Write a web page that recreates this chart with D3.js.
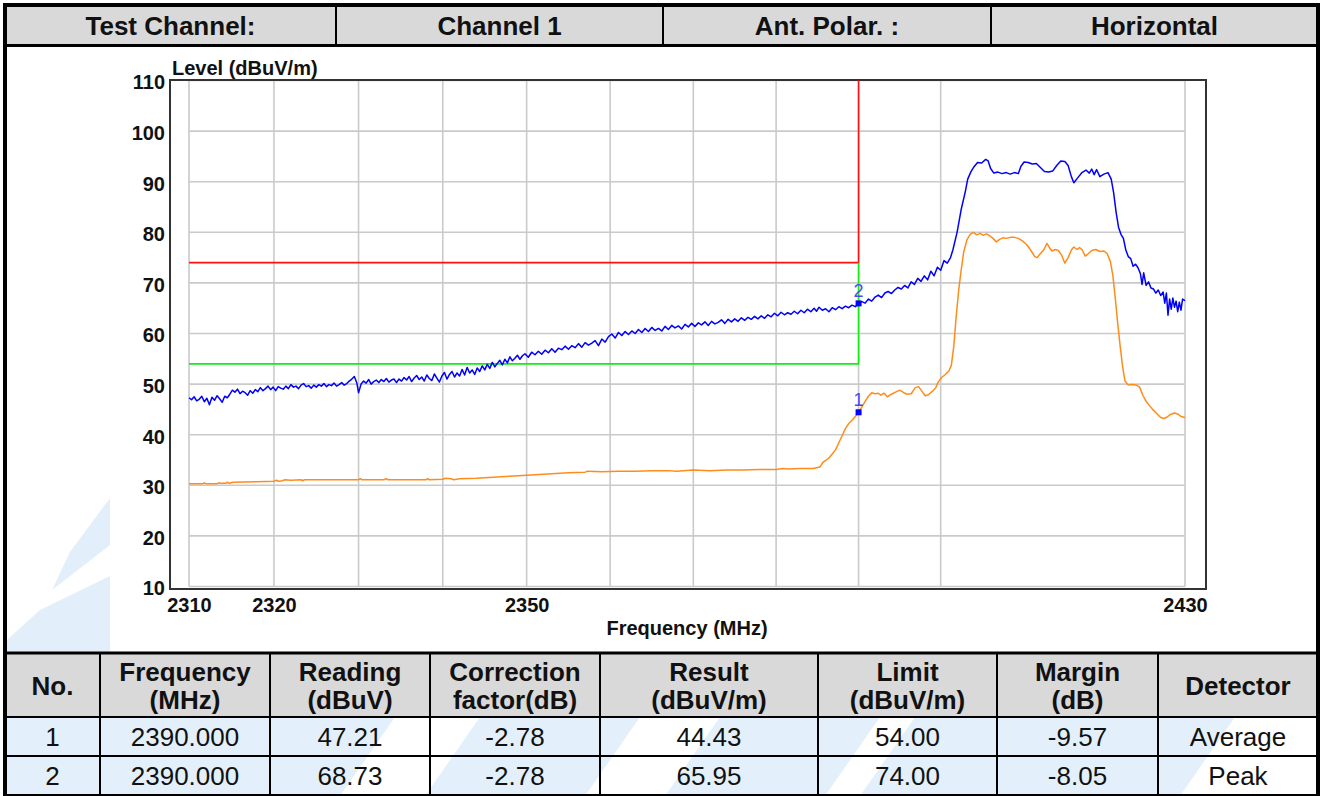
<!DOCTYPE html>
<html>
<head>
<meta charset="utf-8">
<script src="https://cdn.jsdelivr.net/npm/d3@7"></script>
<style>
  html, body { margin: 0; padding: 0; background: #fff; }
  svg { display: block; font-family: Arial, "Liberation Sans", sans-serif; }
</style>
</head>
<body>
<svg id="page" width="1325" height="796"></svg>
<script>
// ---------- header of the test sheet ----------
const headerCells = ["Test Channel:", "Channel 1", "Ant. Polar. :", "Horizontal"];

// ---------- axes ----------
const levelTicks = [10, 20, 30, 40, 50, 60, 70, 80, 90, 100, 110];
const freqGrid = [2310, 2320, 2330, 2340, 2350, 2360, 2370, 2380, 2390, 2400, 2430];
const freqTickLabels = [2310, 2320, 2350, 2430];

// ---------- limit lines (MHz, dBuV/m) ----------
const peakLimit = [[2310, 74], [2390, 74], [2390, 110]];
const avgLimit = [[2310, 54], [2390, 54], [2390, 74]];

// ---------- peak detector trace (MHz, dBuV/m) ----------
const peakTrace = [
  [2310.0,47.3],[2310.3,46.9],[2310.6,47.5],[2310.9,46.7],[2311.2,47.0],[2311.5,47.6],[2311.8,46.5],[2312.1,47.2],[2312.4,45.9],[2312.7,47.4],
  [2313.0,46.8],[2313.3,47.7],[2313.6,47.1],[2313.9,46.4],[2314.2,47.6],[2314.5,47.3],[2314.8,48.0],[2315.1,48.8],[2315.4,48.4],[2315.7,49.0],
  [2316.0,48.1],[2316.3,48.6],[2316.6,48.3],[2316.9,47.8],[2317.2,48.7],[2317.5,48.2],[2317.8,48.9],[2318.1,48.5],[2318.4,49.3],[2318.7,48.7],
  [2319.0,49.1],[2319.3,49.6],[2319.6,48.9],[2319.9,49.4],[2320.2,48.7],[2320.5,49.5],[2320.8,49.2],[2321.1,49.0],[2321.4,49.6],[2321.7,49.1],
  [2322.0,49.9],[2322.3,49.4],[2322.6,49.6],[2322.9,49.1],[2323.2,49.8],[2323.5,50.1],[2323.8,49.5],[2324.1,49.7],[2324.4,49.2],[2324.7,49.8],
  [2325.0,49.4],[2325.3,49.9],[2325.6,49.6],[2325.9,50.1],[2326.2,49.5],[2326.5,49.9],[2326.8,49.7],[2327.1,50.2],[2327.4,49.6],[2327.7,49.9],
  [2328.0,50.3],[2328.3,49.8],[2328.6,50.1],[2328.9,50.6],[2329.2,51.0],[2329.5,51.5],[2329.8,50.2],[2330.0,48.3],[2330.3,50.0],[2330.6,50.6],
  [2330.9,50.2],[2331.2,50.9],[2331.5,50.0],[2331.8,50.5],[2332.1,50.8],[2332.4,50.3],[2332.7,50.9],[2333.0,50.5],[2333.3,51.1],[2333.6,50.4],
  [2333.9,50.8],[2334.2,51.0],[2334.5,50.3],[2334.8,51.0],[2335.1,50.6],[2335.4,51.3],[2335.7,50.8],[2336.0,51.5],[2336.3,50.5],[2336.6,51.2],
  [2336.9,51.7],[2337.2,50.9],[2337.5,51.4],[2337.8,50.6],[2338.1,51.8],[2338.4,51.1],[2338.7,50.7],[2339.0,52.0],[2339.3,51.2],[2339.6,50.4],
  [2339.9,51.6],[2340.2,52.3],[2340.5,51.0],[2340.8,51.9],[2341.1,52.5],[2341.4,51.4],[2341.7,52.2],[2342.0,51.6],[2342.3,52.9],[2342.6,51.8],
  [2342.9,53.3],[2343.2,52.2],[2343.5,52.8],[2343.8,51.9],[2344.1,53.2],[2344.4,52.5],[2344.7,53.6],[2345.0,52.8],[2345.3,53.9],[2345.6,53.1],
  [2345.9,54.3],[2346.2,53.4],[2346.5,54.1],[2346.8,54.7],[2347.1,53.8],[2347.4,54.9],[2347.7,54.2],[2348.0,55.4],[2348.3,54.6],[2348.6,55.1],
  [2348.9,55.7],[2349.2,54.9],[2349.5,55.6],[2349.8,56.0],[2350.2,55.3],[2350.6,56.3],[2351.0,55.8],[2351.4,56.5],[2351.8,55.9],[2352.2,56.7],
  [2352.6,56.2],[2353.0,57.0],[2353.4,56.3],[2353.8,57.1],[2354.2,56.8],[2354.6,57.5],[2355.0,56.9],[2355.4,57.6],[2355.8,57.2],[2356.2,58.0],
  [2356.6,57.3],[2357.0,58.2],[2357.4,57.7],[2357.8,58.1],[2358.2,58.6],[2358.6,57.6],[2359.0,58.9],[2359.4,58.3],[2359.8,59.4],[2360.2,59.9],
  [2360.6,59.1],[2361.0,60.2],[2361.4,59.6],[2361.8,60.4],[2362.2,59.8],[2362.6,60.5],[2363.0,60.0],[2363.4,60.8],[2363.8,60.2],[2364.2,61.0],
  [2364.6,60.4],[2365.0,61.2],[2365.4,60.6],[2365.8,61.0],[2366.2,60.5],[2366.6,61.4],[2367.0,60.8],[2367.4,61.6],[2367.8,61.1],[2368.2,61.5],
  [2368.6,60.9],[2369.0,61.8],[2369.4,61.3],[2369.8,62.0],[2370.2,61.4],[2370.6,62.1],[2371.0,61.7],[2371.4,62.3],[2371.8,61.6],[2372.2,62.4],
  [2372.6,61.9],[2373.0,62.2],[2373.4,62.7],[2373.8,62.0],[2374.2,62.8],[2374.6,62.3],[2375.0,62.9],[2375.4,62.4],[2375.8,63.1],[2376.2,62.6],
  [2376.6,63.2],[2377.0,62.8],[2377.4,63.4],[2377.8,62.9],[2378.2,63.5],[2378.6,63.0],[2379.0,63.7],[2379.4,63.3],[2379.8,64.0],[2380.2,63.5],
  [2380.6,64.2],[2381.0,63.7],[2381.4,64.1],[2381.8,63.8],[2382.2,64.4],[2382.6,63.9],[2383.0,64.6],[2383.4,64.1],[2383.8,64.8],[2384.2,64.3],
  [2384.6,65.0],[2384.9,64.4],[2385.2,65.2],[2385.6,64.6],[2386.0,64.9],[2386.4,64.3],[2386.8,65.1],[2387.2,64.7],[2387.6,65.3],[2388.0,64.9],
  [2388.4,65.4],[2388.8,65.1],[2389.2,65.6],[2389.6,65.3],[2390.0,65.95],
  [2390.4,66.3],[2390.8,66.0],[2391.2,66.8],[2391.6,66.4],[2392.0,67.2],[2392.4,67.6],[2392.8,67.1],[2393.2,68.0],[2393.6,68.3],[2394.0,67.9],
  [2394.4,68.6],[2394.8,69.1],[2395.2,68.8],[2395.6,69.5],[2396.0,69.0],[2396.4,70.2],[2396.8,69.7],[2397.2,70.9],[2397.6,70.3],[2398.0,71.4],
  [2398.4,70.6],[2398.8,72.3],[2399.2,71.4],[2399.6,73.1],[2400.0,72.5],[2400.4,74.4],[2400.8,73.9],[2401.2,75.0],[2401.5,76.6],[2402.0,80.0],
  [2402.5,84.5],[2403.0,88.0],[2403.3,90.5],[2403.7,92.0],[2404.0,92.8],[2404.5,93.8],[2405.0,93.7],[2405.5,94.4],[2405.8,94.1],[2406.1,92.6],
  [2406.5,91.7],[2407.0,91.9],[2407.5,91.6],[2408.0,91.8],[2408.5,91.5],[2409.0,91.8],[2409.5,91.6],[2409.8,93.0],[2410.2,93.9],[2410.7,93.8],
  [2411.2,93.5],[2411.7,93.6],[2412.2,92.8],[2412.7,92.0],[2413.2,91.9],[2413.7,92.1],[2414.2,93.2],[2414.7,94.1],[2415.2,94.0],[2415.6,93.2],
  [2416.0,91.0],[2416.3,89.8],[2416.8,90.8],[2417.3,91.8],[2417.8,92.3],[2418.2,91.7],[2418.5,92.5],[2418.8,91.4],[2419.1,92.4],[2419.5,91.0],
  [2420.0,91.5],[2420.5,91.8],[2420.9,90.5],[2421.2,87.8],[2421.5,84.0],[2421.8,81.0],[2422.1,79.6],[2422.4,78.8],[2422.7,76.5],[2423.0,75.2],
  [2423.3,74.8],[2423.6,73.3],[2423.9,73.7],[2424.2,73.0],[2424.5,71.8],[2424.7,69.7],[2424.9,72.0],[2425.2,69.5],[2425.5,70.2],[2425.8,69.0],
  [2426.1,68.8],[2426.4,68.0],[2426.7,68.6],[2427.0,67.5],[2427.3,68.2],[2427.5,66.0],[2427.7,68.0],[2427.9,63.6],[2428.1,66.8],[2428.3,64.8],
  [2428.5,67.0],[2428.7,65.2],[2428.9,66.4],[2429.1,64.3],[2429.3,66.2],[2429.5,64.6],[2429.7,66.8],[2430.0,66.5]
];

// ---------- average detector trace (MHz, dBuV/m) ----------
const avgTrace = [
  [2310.0,30.3],[2311.6,30.3],[2311.8,30.5],[2312.0,30.3],[2313.3,30.3],[2313.5,30.5],[2313.7,30.4],[2314.3,30.4],[2314.5,30.6],[2314.7,30.4],
  [2315.2,30.6],[2318.0,30.7],[2320.0,30.8],[2320.3,31.0],[2320.5,30.8],[2321.0,30.9],[2321.3,31.1],[2322.0,31.0],[2323.2,31.1],[2323.4,30.9],
  [2323.6,31.1],[2326.0,31.1],[2330.0,31.1],[2330.2,31.3],[2330.4,31.1],[2333.0,31.1],[2333.3,31.3],[2333.5,31.1],[2338.0,31.1],[2338.2,31.3],
  [2338.4,31.1],[2340.0,31.2],[2340.3,31.4],[2341.0,31.3],[2341.3,31.1],[2342.0,31.3],[2344.0,31.4],[2345.0,31.5],[2347.0,31.7],[2349.0,31.9],
  [2351.0,32.1],[2353.0,32.3],[2355.0,32.5],[2357.0,32.6],[2357.3,32.8],[2359.0,32.7],[2361.0,32.8],[2363.0,32.8],[2365.0,32.9],[2367.0,32.9],
  [2368.0,32.8],[2370.0,33.0],[2372.0,32.9],[2374.0,33.0],[2376.0,33.0],[2378.0,33.1],[2380.0,33.1],[2380.8,33.3],[2381.5,33.2],[2383.0,33.3],
  [2384.5,33.3],[2385.3,33.6],[2385.7,34.6],[2386.0,34.9],[2386.4,35.4],[2386.8,36.2],[2387.2,37.0],[2387.6,38.4],[2388.0,39.8],[2388.4,41.2],
  [2388.8,42.2],[2389.3,43.0],[2389.7,43.8],[2390.0,44.43],[2390.4,45.5],[2390.8,46.6],[2391.2,47.6],[2391.6,48.3],[2392.0,48.1],[2392.4,48.2],
  [2392.7,47.8],[2393.1,48.2],[2393.5,47.5],[2394.0,48.0],[2394.5,48.4],[2395.0,48.8],[2395.5,48.3],[2395.9,48.0],[2396.4,48.1],[2396.9,49.3],
  [2397.3,49.5],[2397.7,48.6],[2398.1,47.7],[2398.5,47.9],[2399.0,48.6],[2399.4,49.3],[2399.7,50.4],[2400.1,51.3],[2400.5,51.8],[2401.0,52.6],
  [2401.3,53.7],[2401.6,57.5],[2401.9,63.5],[2402.2,68.6],[2402.5,72.5],[2402.8,76.0],[2403.2,78.5],[2403.6,79.6],[2404.0,80.0],[2404.4,79.5],
  [2404.8,79.8],[2405.2,79.4],[2405.6,79.7],[2406.0,79.3],[2406.4,78.8],[2406.8,78.1],[2407.2,78.6],[2407.6,78.9],[2408.0,78.8],[2408.5,79.0],
  [2409.0,79.0],[2409.5,78.8],[2410.0,78.3],[2410.5,77.6],[2411.0,76.5],[2411.5,75.2],[2411.8,75.0],[2412.2,75.8],[2412.6,76.5],[2413.0,77.8],
  [2413.3,77.0],[2413.6,76.3],[2414.0,76.6],[2414.4,76.4],[2414.8,75.5],[2415.2,73.9],[2415.6,75.0],[2416.0,76.5],[2416.3,77.1],[2416.7,76.6],
  [2417.0,77.0],[2417.3,76.6],[2417.7,75.3],[2418.1,75.8],[2418.5,76.4],[2419.0,76.6],[2419.5,76.2],[2420.0,76.3],[2420.4,75.8],[2420.8,74.2],
  [2421.1,71.5],[2421.4,67.0],[2421.7,62.0],[2422.0,57.5],[2422.3,53.5],[2422.6,50.6],[2423.0,49.8],[2423.5,49.9],[2424.0,49.8],[2424.4,49.4],
  [2424.8,47.8],[2425.2,46.6],[2425.6,45.8],[2426.0,45.0],[2426.5,44.2],[2427.0,43.4],[2427.4,43.2],[2427.8,43.5],[2428.2,44.0],[2428.7,44.3],
  [2429.1,44.1],[2429.5,43.6],[2430.0,43.4]
];

// ---------- result table ----------
const tableHeads = [["No."], ["Frequency", "(MHz)"], ["Reading", "(dBuV)"], ["Correction", "factor(dB)"],
                    ["Result", "(dBuV/m)"], ["Limit", "(dBuV/m)"], ["Margin", "(dB)"], ["Detector"]];
const markerNo = ["1", "2"];
const markerFreq = [2390.000, 2390.000];
const readings = [47.21, 68.73];
const corrections = [-2.78, -2.78];
const results = [44.43, 65.95];
const limits = [54.00, 74.00];
const margins = [-9.57, -8.05];
const detectors = ["Average", "Peak"];

// ================= drawing =================
const svg = d3.select("#page");

// faint logo watermark behind the sheet
svg.append("rect").attr("x", 5).attr("y", 717).attr("width", 1313).attr("height", 79).attr("fill", "#e3f0fb");
const wmBlue = [
  [[110, 498], [110, 545], [52, 590], [70, 552]],
  [[110, 576], [110, 652], [7, 652], [7, 640], [40, 610]]
];
svg.append("g").attr("fill", "#e2effa").selectAll("polygon").data(wmBlue).join("polygon")
  .attr("points", d => d.map(p => p.join(",")).join(" "));
const wmWhite = [
  [[395, 717], [480, 717], [425, 796], [340, 796]],
  [[640, 717], [720, 717], [665, 796], [585, 796]],
  [[880, 717], [915, 717], [860, 796], [825, 796]],
  [[1235, 717], [1318, 717], [1318, 796], [1180, 796]]
];
svg.append("g").attr("fill", "#fff").selectAll("polygon").data(wmWhite).join("polygon")
  .attr("points", d => d.map(p => p.join(",")).join(" "));

// white plot picture
svg.append("rect").attr("x", 110).attr("y", 47).attr("width", 1206).attr("height", 605).attr("fill", "#fff");

// ----- top header row -----
const headX = [5, 336, 663, 991, 1318];
const head = svg.append("g");
head.append("rect").attr("x", 5).attr("y", 5).attr("width", 1313).attr("height", 40).attr("fill", "#d9d9d9");
head.selectAll("text").data(headerCells).join("text")
  .attr("x", (d, i) => (headX[i] + headX[i + 1]) / 2)
  .attr("y", 35)
  .attr("text-anchor", "middle")
  .attr("font-weight", "bold")
  .attr("font-size", 26)
  .attr("fill", "#111")
  .text(d => d);
head.selectAll("line.div").data(headX.slice(1, -1)).join("line")
  .attr("class", "div")
  .attr("x1", d => d).attr("x2", d => d).attr("y1", 5).attr("y2", 45)
  .attr("stroke", "#000").attr("stroke-width", 2);
head.append("line").attr("x1", 5).attr("x2", 1318).attr("y1", 45.5).attr("y2", 45.5)
  .attr("stroke", "#000").attr("stroke-width", 3);

// ----- chart -----
const x = d3.scaleLog().domain([2310, 2430]).range([189, 1185]);
const y = d3.scaleLinear().domain([10, 110]).range([586.5, 80.5]);

const chart = svg.append("g");

// grid
chart.append("g").selectAll("line").data(freqGrid).join("line")
  .attr("x1", d => x(d)).attr("x2", d => x(d))
  .attr("y1", y(110)).attr("y2", y(10))
  .attr("stroke", "#cacaca").attr("stroke-width", 1.6);
chart.append("g").selectAll("line").data(levelTicks).join("line")
  .attr("x1", x(2310)).attr("x2", x(2430))
  .attr("y1", d => y(d)).attr("y2", d => y(d))
  .attr("stroke", "#cacaca").attr("stroke-width", 1.6);

// frame
chart.append("rect").attr("x", 170).attr("y", 80).attr("width", 1036).attr("height", 509)
  .attr("fill", "none").attr("stroke", "#333").attr("stroke-width", 2);

// limit lines
const line = d3.line().x(d => x(d[0])).y(d => y(d[1]));
chart.append("path").datum(peakLimit).attr("d", line)
  .attr("fill", "none").attr("stroke", "#ff1010").attr("stroke-width", 1.6);
chart.append("path").datum(avgLimit).attr("d", line)
  .attr("fill", "none").attr("stroke", "#10ee10").attr("stroke-width", 1.6);

// traces
chart.append("path").datum(avgTrace).attr("d", line)
  .attr("fill", "none").attr("stroke", "#ff8c1a").attr("stroke-width", 1.5).attr("stroke-linejoin", "round");
chart.append("path").datum(peakTrace).attr("d", line)
  .attr("fill", "none").attr("stroke", "#0000ff").attr("stroke-width", 1.5).attr("stroke-linejoin", "round");

// markers
const mk = chart.append("g");
mk.selectAll("rect").data(results).join("rect")
  .attr("x", (d, i) => x(markerFreq[i]) - 3).attr("y", d => y(d) - 3)
  .attr("width", 6).attr("height", 6).attr("fill", "#0000ff");
mk.selectAll("text").data(results).join("text")
  .attr("x", (d, i) => x(markerFreq[i]))
  .attr("y", d => y(d) - 6)
  .attr("text-anchor", "middle").attr("font-size", 18).attr("fill", "#4a4af5")
  .text((d, i) => markerNo[i]);

// axes
const xAxis = d3.axisBottom(x).tickValues(freqTickLabels).tickFormat(d3.format("d")).tickSize(0).tickPadding(0);
const gx = chart.append("g").attr("transform", "translate(0,598)").call(xAxis);
gx.select(".domain").remove();
gx.selectAll("text").attr("font-size", 20).attr("font-weight", "bold").attr("fill", "#111")
  .attr("font-family", "Arial, 'Liberation Sans', sans-serif").attr("dy", "0.71em");

const yAxis = d3.axisLeft(y).tickValues(levelTicks).tickSize(0).tickPadding(0);
const gy = chart.append("g").attr("transform", "translate(165,2)").call(yAxis);
gy.select(".domain").remove();
gy.selectAll("text").attr("font-size", 20).attr("font-weight", "bold").attr("fill", "#111")
  .attr("font-family", "Arial, 'Liberation Sans', sans-serif");

chart.append("text").attr("x", 172).attr("y", 75)
  .attr("font-size", 20).attr("font-weight", "bold").attr("fill", "#111")
  .text("Level (dBuV/m)");
chart.append("text").attr("x", (x(2310) + x(2430)) / 2).attr("y", 635)
  .attr("text-anchor", "middle").attr("font-size", 20).attr("font-weight", "bold").attr("fill", "#111")
  .text("Frequency (MHz)");

// ----- result table -----
const colX = [5, 100, 270, 430, 600, 818, 997, 1158, 1318];
const rowY = [653, 717, 756, 795];
const tbl = svg.append("g");
tbl.append("rect").attr("x", 5).attr("y", rowY[0]).attr("width", 1313).attr("height", rowY[1] - rowY[0]).attr("fill", "#d9d9d9");

tableHeads.forEach((lines, i) => {
  const cx = (colX[i] + colX[i + 1]) / 2;
  const t = tbl.append("text").attr("text-anchor", "middle").attr("font-weight", "bold")
    .attr("font-size", 26).attr("fill", "#111");
  if (lines.length === 1) {
    t.append("tspan").attr("x", cx).attr("y", 695).text(lines[0]);
  } else {
    t.append("tspan").attr("x", cx).attr("y", 681).text(lines[0]);
    t.append("tspan").attr("x", cx).attr("y", 709).text(lines[1]);
  }
});

const rows = markerNo.map((n, i) => [n, markerFreq[i].toFixed(3), readings[i].toFixed(2), corrections[i].toFixed(2),
  results[i].toFixed(2), limits[i].toFixed(2), margins[i].toFixed(2), detectors[i]]);
rows.forEach((r, ri) => {
  const cy = (rowY[ri + 1] + rowY[ri + 2]) / 2;
  r.forEach((v, ci) => {
    tbl.append("text").attr("x", (colX[ci] + colX[ci + 1]) / 2).attr("y", cy + 9)
      .attr("text-anchor", "middle").attr("font-size", 26).attr("fill", "#111").text(v);
  });
});

// table rules
tbl.selectAll("line.col").data(colX.slice(1, -1)).join("line").attr("class", "col")
  .attr("x1", d => d).attr("x2", d => d).attr("y1", rowY[0]).attr("y2", rowY[3])
  .attr("stroke", "#000").attr("stroke-width", 2);
tbl.selectAll("line.row").data(rowY.slice(1)).join("line").attr("class", "row")
  .attr("x1", 5).attr("x2", 1318).attr("y1", d => d).attr("y2", d => d)
  .attr("stroke", "#000").attr("stroke-width", 2);
tbl.append("line").attr("x1", 5).attr("x2", 1318).attr("y1", rowY[0]).attr("y2", rowY[0])
  .attr("stroke", "#000").attr("stroke-width", 3);

// outer border
const border = svg.append("g").attr("stroke", "#000").attr("stroke-width", 4);
border.append("line").attr("x1", 5).attr("x2", 5).attr("y1", 3).attr("y2", 796);
border.append("line").attr("x1", 1318).attr("x2", 1318).attr("y1", 3).attr("y2", 796);
border.append("line").attr("x1", 3).attr("x2", 1320).attr("y1", 5).attr("y2", 5);
</script>
</body>
</html>
